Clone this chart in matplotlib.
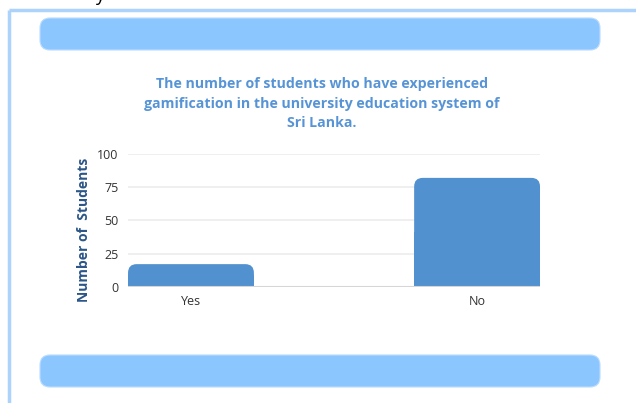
import numpy as np
import matplotlib.pyplot as plt
from matplotlib.patches import FancyBboxPatch, Rectangle

categories = ['Yes', 'No']
students = [17, 82]
yticks = [0, 25, 50, 75, 100]

title = ('The number of students who have experienced\n'
         'gamification in the university education system of\n'
         'Sri Lanka.')

plt.rcParams['font.family'] = ['Open Sans', 'DejaVu Sans']

fig = plt.figure(figsize=(6.36, 4.03), dpi=100)

# background decoration drawn in pixel coordinates
bg = fig.add_axes([0, 0, 1, 1], zorder=0)
bg.set_xlim(0, 636)
bg.set_ylim(403, 0)
bg.axis('off')
bg.plot([9, 636], [10, 10], color='#acd3fb', lw=2.5, solid_capstyle='butt')
bg.plot([9, 9], [10, 403], color='#acd3fb', lw=2.5, solid_capstyle='butt')
for y0 in (18, 355):
    bg.add_patch(FancyBboxPatch((40, y0), 560, 32,
                                boxstyle='round,pad=0,rounding_size=10',
                                facecolor='#8cc6fe', edgecolor='#b9dcfe', lw=0.8))
bg.text(100, -4, 'y', fontsize=13, color='black', ha='center', va='center')

fig.text(0.506, 0.742, title, ha='center', va='center', fontsize=10.2,
         fontweight='bold', color='#5794d6', linespacing=1.5)

ax = fig.add_axes([0.2013, 0.2886, 0.6478, 0.3293], zorder=1)
ax.patch.set_alpha(0)
x = np.arange(len(categories))
w = 0.44
bars = ax.bar(x, students, width=w, color='#5291cf', zorder=3)

# give the bars rounded top corners
for b in bars:
    bx, by = b.get_x(), b.get_y()
    bw, bh = b.get_width(), b.get_height()
    b.set_visible(False)
    ax.add_patch(FancyBboxPatch((bx, by), bw, bh,
                                boxstyle='round,pad=0,rounding_size=0.03',
                                mutation_aspect=220, facecolor='#5291cf',
                                edgecolor='none', zorder=3))
    ax.add_patch(Rectangle((bx, by), bw, bh / 2, facecolor='#5291cf',
                           edgecolor='none', zorder=3))

ax.set_xlim(-w / 2, 1 + w / 2)
ax.set_ylim(0, 100)
ax.set_yticks(yticks)
ax.set_xticks(x)
ax.set_xticklabels(categories)
for yt in yticks[1:]:
    ax.axhline(yt, color='#ececec', lw=1.2, zorder=1)
ax.axhline(0, color='#d6d6d6', lw=1.5, zorder=4)
for s in ax.spines.values():
    s.set_visible(False)
ax.tick_params(axis='both', length=0, labelsize=9, labelcolor='#333333')
ax.tick_params(axis='y', pad=7)
ax.tick_params(axis='x', pad=6)
ax.set_ylabel('Number of  Students', fontsize=10, fontweight='bold',
              color='#2b5687')
ax.yaxis.set_label_coords(-0.09, 0.43)

fig.savefig('out.png', dpi=100)
